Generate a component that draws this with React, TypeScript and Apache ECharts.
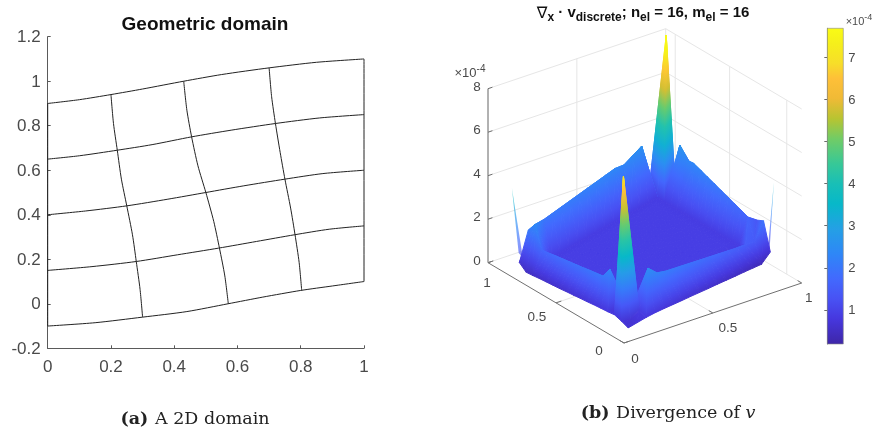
import React, { useEffect, useRef } from "react";
import * as echarts from "echarts";

// ---------- left panel : mesh curves ----------
const xTicksLeft = { min: 0, max: 1, step: 0.2 };
const yTicksLeft = { min: -0.2, max: 1.2, step: 0.2 };
const meshH1 = [[0,0.9],[0.1,0.917],[0.2,0.94],[0.3,0.965],[0.43,1.0],[0.55,1.03],[0.7,1.06],[0.85,1.085],[1,1.1]];
const meshH2 = [[0,0.65],[0.1,0.665],[0.22,0.69],[0.33,0.715],[0.455,0.75],[0.58,0.78],[0.72,0.81],[0.86,0.835],[1,0.85]];
const meshH3 = [[0,0.4],[0.12,0.417],[0.25,0.44],[0.38,0.47],[0.5,0.5],[0.62,0.53],[0.75,0.56],[0.87,0.585],[1,0.6]];
const meshH4 = [[0,0.15],[0.14,0.167],[0.28,0.19],[0.41,0.22],[0.54,0.25],[0.66,0.28],[0.78,0.31],[0.89,0.335],[1,0.35]];
const meshH5 = [[0,-0.1],[0.15,-0.085],[0.3,-0.06],[0.44,-0.035],[0.57,0],[0.68,0.03],[0.8,0.06],[0.9,0.08],[1,0.1]];
const meshV1 = [[0.2,0.94],[0.208,0.81],[0.22,0.69],[0.233,0.56],[0.25,0.44],[0.268,0.31],[0.28,0.19],[0.292,0.065],[0.3,-0.06]];
const meshV2 = [[0.43,1.0],[0.44,0.87],[0.455,0.75],[0.475,0.62],[0.5,0.5],[0.525,0.37],[0.543,0.25],[0.56,0.125],[0.571,0]];
const meshV3 = [[0.7,1.06],[0.708,0.93],[0.72,0.81],[0.735,0.68],[0.75,0.56],[0.768,0.43],[0.782,0.31],[0.795,0.185],[0.803,0.06]];
const meshV4 = [[1,0.1],[1,1.1]];
const meshV5 = [[0,-0.1],[0,0.9]];
const meshLines = [meshH1, meshH2, meshH3, meshH4, meshH5, meshV1, meshV2, meshV3, meshV4, meshV5];

// ---------- right panel : surface heights, 17 x 17 nodes over x,y = 0.1..0.9 ----------
const nodeX = [0.1,0.15,0.2,0.25,0.3,0.35,0.4,0.45,0.5,0.55,0.6,0.65,0.7,0.75,0.8,0.85,0.9];
const nodeY = nodeX;
const heights: number[][] = [
  [0.05,0.15,0.25,0.23,0.19,0.14,0.09,0.05,0,-0.05,-0.09,-0.14,-0.19,-0.23,-0.28,-0.33,0],
  [0.18,0.1,0.4,2.1,1.65,1.5,1.4,1.3,1.2,1.1,1.0,0.9,0.8,0.7,0.63,0.55,1.25],
  [0.28,6.5,0.38,0.38,0.38,0.38,0.38,0.38,0.38,0.38,0.38,0.38,0.38,0.38,0.38,1.47,1.1],
  [0.24,0.18,0.38,0.45,0.45,0.45,0.45,0.45,0.45,0.45,0.45,0.45,0.45,0.45,0.38,1.6,0.8],
  [0.21,1.87,0.38,0.45,0.45,0.45,0.45,0.45,0.45,0.45,0.45,0.45,0.45,0.45,0.38,1.72,0.92],
  [0.18,1.37,0.38,0.45,0.45,0.45,0.45,0.45,0.45,0.45,0.45,0.45,0.45,0.45,0.38,1.85,1.05],
  [0.14,1.32,0.38,0.45,0.45,0.45,0.45,0.45,0.45,0.45,0.45,0.45,0.45,0.45,0.38,1.97,1.17],
  [0.11,1.27,0.38,0.45,0.45,0.45,0.45,0.45,0.45,0.45,0.45,0.45,0.45,0.45,0.38,2.1,1.3],
  [0.07,1.21,0.38,0.45,0.45,0.45,0.45,0.45,0.45,0.45,0.45,0.45,0.45,0.45,0.38,2.22,1.42],
  [0.04,1.16,0.38,0.45,0.45,0.45,0.45,0.45,0.45,0.45,0.45,0.45,0.45,0.45,0.38,2.35,1.55],
  [0,1.11,0.38,0.45,0.45,0.45,0.45,0.45,0.45,0.45,0.45,0.45,0.45,0.45,0.38,2.47,1.67],
  [-0.03,1.06,0.38,0.45,0.45,0.45,0.45,0.45,0.45,0.45,0.45,0.45,0.45,0.45,0.38,2.43,1.63],
  [-0.06,1.01,0.38,0.45,0.45,0.45,0.45,0.45,0.45,0.45,0.45,0.45,0.45,0.45,0.38,2.93,1.6],
  [-0.09,0.95,0.38,0.45,0.45,0.45,0.45,0.45,0.45,0.45,0.45,0.45,0.45,0.45,0.38,1.44,0.4],
  [-0.13,0.9,0.38,0.38,0.38,0.38,0.38,0.38,0.38,0.38,0.38,0.38,0.38,0.38,0.38,7.62,0.5],
  [-0.16,1.9,1.99,2.05,2.11,2.17,2.23,2.29,2.35,2.41,2.47,2.4,2.6,2.8,1.2,1.3,0.6],
  [0.1,1.45,1.3,1.35,1.41,1.47,1.53,1.59,1.65,1.71,1.77,1.7,1.9,2.1,0.7,0.8,0.5],
];
// cells beside the two tall spikes that are split along the other diagonal, so the spikes stay narrow
const flippedCells = ["0,2", "15,13"];
// thin spikes at the left and right corners: apex then two base nodes, as [x, y, h]
const cornerSpikeLeft = [[0.1,0.955,3.32],[0.096,0.9,0.55],[0.108,0.885,0.35]];
const cornerSpikeRight = [[0.92,0.1,3.13],[0.9,0.115,0.3],[0.892,0.095,0.2]];

const zTicks = [0, 2, 4, 6, 8];
const xyTicks = [0, 0.5, 1];
const wallYVerticals = [0, 0.5, 1];
const wallXVerticals = [0.93, 0.53, 0.11];
const barTicks = [1, 2, 3, 4, 5, 6, 7];
const barRange = [0.19, 7.69];

// parula colour map
const parulaStops = [
  [0,62,38,168],[0.079,70,55,222],[0.143,72,82,244],[0.206,66,105,254],[0.286,46,135,247],[0.365,36,160,229],
  [0.444,7,184,201],[0.508,25,191,182],[0.571,55,200,151],[0.651,114,204,101],[0.714,184,196,49],[0.778,240,186,54],
  [0.841,254,192,56],[0.889,247,222,41],[0.952,245,239,27],[1,249,251,21],
];

function parula(t: number) {
  const u = Math.min(1, Math.max(0, t));
  for (let i = 1; i < parulaStops.length; i++) {
    const a = parulaStops[i - 1], b = parulaStops[i];
    if (u <= b[0]) {
      const f = (u - a[0]) / (b[0] - a[0]);
      return `rgb(${Math.round(a[1] + f * (b[1] - a[1]))},${Math.round(a[2] + f * (b[2] - a[2]))},${Math.round(a[3] + f * (b[3] - a[3]))})`;
    }
  }
  return "rgb(249,251,21)";
}
const colourOf = (c: number) => parula((c - barRange[0]) / (barRange[1] - barRange[0]));

// oblique projection of the 3-D box on the plane of the picture
const box = { ox: 624, oy: 343, xx: 177.7, xy: -60, yx: -136, yy: -80.3, zy: -21.75 };
const project = (x: number, y: number, z: number) => [
  box.ox + box.xx * x + box.yx * y,
  box.oy + box.xy * x + box.yy * y + box.zy * z,
];
const lean = (x: number) => 1.9 * Math.max(0, x - 0.2);
const surfaceColourValue = (x: number, y: number, h: number) => {
  const base = h <= 3 ? 0.6 + 0.7 * h : h + 0.6;
  const frontRidge = (x < 0.2 || y < 0.2) && h > 0.5 && h <= 3;
  return base + (frontRidge ? 0.45 : 0);
};

type Vert = { x: number; y: number; h: number };
const node = (a: number, b: number): Vert => ({ x: nodeX[a], y: nodeY[b], h: heights[b][a] });

function buildTriangles() {
  const out: Vert[][] = [];
  for (let a = nodeX.length - 2; a >= 0; a--) {
    for (let b = nodeY.length - 2; b >= 0; b--) {
      const p00 = node(a, b), p10 = node(a + 1, b), p11 = node(a + 1, b + 1), p01 = node(a, b + 1);
      const alongMain = Math.abs(p00.h - p11.h) >= Math.abs(p10.h - p01.h);
      const useMain = flippedCells.includes(`${a},${b}`) ? !alongMain : alongMain;
      if (useMain) {
        out.push([p00, p11, p01], [p00, p10, p11]);
      } else {
        out.push([p10, p11, p01], [p00, p10, p01]);
      }
    }
  }
  return out;
}
const triangles = buildTriangles();
const asVert = (v: number[]): Vert => ({ x: v[0], y: v[1], h: v[2] });
const spikeTriangles = [cornerSpikeLeft, cornerSpikeRight].map((s) => s.map(asVert));

type Seg = number[][];
function buildWalls() {
  const segs: Seg[] = [];
  for (const z of zTicks) {
    segs.push([[0, 1, z], [1, 1, z]], [[1, 1, z], [1, 0, z]]);
  }
  for (const x of wallYVerticals) segs.push([[x, 1, 0], [x, 1, 8]]);
  for (const y of wallXVerticals) segs.push([[1, y, 0], [1, y, 8]]);
  segs.push([[0.5, 0, 0], [0.5, 1, 0]], [[0, 0.5, 0], [1, 0.5, 0]]);
  return segs;
}
function buildAxes() {
  const segs: Seg[] = [[[0, 1, 0], [0, 1, 8]], [[0, 0, 0], [0, 1, 0]], [[0, 0, 0], [1, 0, 0]]];
  for (const z of zTicks) segs.push([[0, 1, z], [0.025, 1, z]]);
  for (const t of xyTicks) {
    segs.push([[t, 0, 0], [t, 0.03, 0]]);
    segs.push([[0, t, 0], [0.03, t, 0]]);
  }
  return segs;
}
const wallSegs = buildWalls();
const axisSegs = buildAxes();

const labelFont = "'Liberation Sans', Arial, sans-serif";
const serifFont = "'DejaVu Serif', serif";
const tickColour = "#4a4a4a";

const boxLabels = [
  ...zTicks.map((z) => ({ p: [0, 1, z], dx: -11, dy: -2.5, t: String(z) })),
  { p: [0, 0, 0], dx: 11, dy: 15, t: "0" },
  { p: [0.5, 0, 0], dx: 15, dy: 14, t: "0.5" },
  { p: [1, 0, 0], dx: 7, dy: 14, t: "1" },
  { p: [0, 0, 0], dx: -25, dy: 7, t: "0" },
  { p: [0, 0.5, 0], dx: -19, dy: 14, t: "0.5" },
  { p: [0, 1, 0], dx: -1, dy: 20, t: "1" },
];

function gradientFor(pts: number[][], cs: number[]) {
  const [p0, p1, p2] = pts;
  const det = (p1[0] - p0[0]) * (p2[1] - p0[1]) - (p2[0] - p0[0]) * (p1[1] - p0[1]);
  const lo = Math.min(...cs), hi = Math.max(...cs);
  if (hi - lo < 0.04 || Math.abs(det) < 0.01) return colourOf((lo + hi) / 2);
  const gx = ((cs[1] - cs[0]) * (p2[1] - p0[1]) - (cs[2] - cs[0]) * (p1[1] - p0[1])) / det;
  const gy = ((cs[2] - cs[0]) * (p1[0] - p0[0]) - (cs[1] - cs[0]) * (p2[0] - p0[0])) / det;
  const g2 = gx * gx + gy * gy;
  const iLo = cs.indexOf(lo);
  const start = pts[iLo];
  const n = Math.min(10, Math.max(2, Math.ceil(hi - lo) * 2 + 1));
  const colorStops = [];
  for (let i = 0; i < n; i++) {
    const f = i / (n - 1);
    colorStops.push({ offset: f, color: colourOf(lo + f * (hi - lo)) });
  }
  return {
    type: "linear", global: true,
    x: start[0], y: start[1],
    x2: start[0] + (gx * (hi - lo)) / g2, y2: start[1] + (gy * (hi - lo)) / g2,
    colorStops,
  };
}

const triangleRenderer = (list: Vert[][], opacity: number, strokeW: number) => (params: any, api: any) => {
  const tri = list[params.dataIndex];
  const pts = tri.map((v) => api.coord(project(v.x, v.y, v.h + lean(v.x))));
  const cs = tri.map((v) => surfaceColourValue(v.x, v.y, v.h));
  const fill = gradientFor(pts, cs);
  return {
    type: "polygon",
    shape: { points: pts },
    style: { fill, stroke: strokeW > 0 ? fill : "none", lineWidth: strokeW, lineJoin: "round", opacity },
    silent: true,
  };
};

const segRenderer = (list: Seg[], color: string) => (params: any, api: any) => {
  const s = list[params.dataIndex];
  const a = api.coord(project(s[0][0], s[0][1], s[0][2]));
  const b = api.coord(project(s[1][0], s[1][1], s[1][2]));
  return {
    type: "line",
    shape: { x1: a[0], y1: a[1], x2: b[0], y2: b[1] },
    style: { stroke: color, lineWidth: 1 },
    silent: true,
  };
};

const customBase = { type: "custom", xAxisIndex: 1, yAxisIndex: 1, clip: false, silent: true, animation: false };
const indexData = (arr: any[]) => arr.map((_, i) => [i, i]);

function buildOption() {
  const meshSeries = meshLines.map((d) => ({
    type: "line", xAxisIndex: 0, yAxisIndex: 0, data: d, showSymbol: false, smooth: 0.25, clip: false, silent: true,
    lineStyle: { color: "#222222", width: 1 },
  }));
  return {
    animation: false,
    backgroundColor: "#ffffff",
    grid: [
      { left: 47.7, top: 36.7, width: 316.3, height: 311.6 },
      { left: 0, top: 0, width: 879, height: 432 },
      { left: 827.3, top: 28.3, width: 16, height: 315.7 },
    ],
    xAxis: [
      {
        gridIndex: 0, type: "value", min: xTicksLeft.min, max: xTicksLeft.max, interval: xTicksLeft.step,
        axisLine: { show: true, onZero: false, lineStyle: { color: "#5a5a5a", width: 1 } },
        axisTick: { show: true, inside: true, length: 3, lineStyle: { color: "#5a5a5a" } },
        axisLabel: { color: tickColour, fontSize: 17, fontFamily: labelFont, margin: 10 },
        splitLine: { show: false },
      },
      { gridIndex: 1, type: "value", min: 0, max: 879, show: false },
      { gridIndex: 2, type: "value", min: 0, max: 1, show: false },
    ],
    yAxis: [
      {
        gridIndex: 0, type: "value", min: yTicksLeft.min, max: yTicksLeft.max, interval: yTicksLeft.step,
        axisLine: { show: true, onZero: false, lineStyle: { color: "#5a5a5a", width: 1 } },
        axisTick: { show: true, inside: true, length: 3, lineStyle: { color: "#5a5a5a" } },
        axisLabel: { color: tickColour, fontSize: 17, fontFamily: labelFont, margin: 7, formatter: (v: number) => String(Number(v.toFixed(1))) },
        splitLine: { show: false },
      },
      { gridIndex: 1, type: "value", min: 0, max: 432, inverse: true, show: false },
      {
        gridIndex: 2, type: "value", min: barRange[0], max: barRange[1], position: "right",
        axisLine: { show: true, lineStyle: { color: "#6a6a6a", width: 1 } },
        axisTick: { show: true, inside: true, length: 3, lineStyle: { color: "#6a6a6a" }, customValues: barTicks },
        axisLabel: { color: tickColour, fontSize: 13, fontFamily: labelFont, margin: 5, customValues: barTicks },
        splitLine: { show: false },
      },
    ],
    series: [
      ...meshSeries,
      { ...customBase, data: indexData(wallSegs), renderItem: segRenderer(wallSegs, "#e6e6e6") },
      { ...customBase, data: indexData(axisSegs), renderItem: segRenderer(axisSegs, "#707070") },
      { ...customBase, data: indexData(spikeTriangles), renderItem: triangleRenderer(spikeTriangles, 0.65, 0) },
      { ...customBase, data: indexData(triangles), renderItem: triangleRenderer(triangles, 1, 1) },
      {
        ...customBase, data: indexData(boxLabels),
        renderItem: (params: any, api: any) => {
          const l = boxLabels[params.dataIndex];
          const c = api.coord(project(l.p[0], l.p[1], l.p[2]));
          return {
            type: "text", x: c[0] + l.dx, y: c[1] + l.dy,
            style: { text: l.t, fontSize: 13.5, fontFamily: labelFont, fill: tickColour, align: "center", verticalAlign: "middle" },
          };
        },
      },
      {
        type: "custom", xAxisIndex: 2, yAxisIndex: 2, clip: false, silent: true,
        data: [[0, barRange[0]]],
        renderItem: (_p: any, api: any) => {
          const a = api.coord([0, barRange[1]]);
          const b = api.coord([1, barRange[0]]);
          const colorStops = parulaStops.map((s) => ({ offset: 1 - s[0], color: `rgb(${s[1]},${s[2]},${s[3]})` })).reverse();
          return {
            type: "rect",
            shape: { x: a[0], y: a[1], width: b[0] - a[0], height: b[1] - a[1] },
            style: { fill: { type: "linear", x: 0, y: 0, x2: 0, y2: 1, colorStops }, stroke: "#8a8a8a", lineWidth: 0.6 },
          };
        },
      },
    ],
    graphic: [
      {
        type: "text", x: 205, y: 23,
        style: { text: "Geometric domain", font: `bold 19px ${labelFont}`, fill: "#111111", align: "center", verticalAlign: "middle" },
      },
      {
        type: "text", x: 643, y: 15,
        style: {
          text: "{g|∇}{s|x}{m| · v}{s|discrete}{m|; n}{s|el}{m| = 16, m}{s|el}{m| = 16}",
          align: "center", verticalAlign: "middle",
          rich: {
            g: { font: `16px 'DejaVu Sans', sans-serif`, fill: "#111111", lineHeight: 22, verticalAlign: "top" },
            m: { font: `bold 15px ${labelFont}`, fill: "#111111", lineHeight: 22, verticalAlign: "top" },
            s: { font: `bold 12px ${labelFont}`, fill: "#111111", lineHeight: 22, padding: [7, 0, 0, 0], verticalAlign: "top" },
          },
        },
      },
      {
        type: "text", x: 470, y: 71,
        style: {
          text: "{m|×10}{s|-4}", align: "center", verticalAlign: "middle",
          rich: {
            m: { font: `13px ${labelFont}`, fill: tickColour, lineHeight: 16, padding: [3, 0, 0, 0], verticalAlign: "top" },
            s: { font: `10px ${labelFont}`, fill: tickColour, lineHeight: 16, verticalAlign: "top" },
          },
        },
      },
      {
        type: "text", x: 859, y: 19,
        style: {
          text: "{m|×10}{s|-4}", align: "center", verticalAlign: "middle",
          rich: {
            m: { font: `11px ${labelFont}`, fill: tickColour, lineHeight: 14, padding: [3, 0, 0, 0], verticalAlign: "top" },
            s: { font: `9px ${labelFont}`, fill: tickColour, lineHeight: 14, verticalAlign: "top" },
          },
        },
      },
      {
        type: "text", x: 195, y: 418,
        style: {
          text: "{b|(a)}  {r|A 2D domain}", align: "center", verticalAlign: "middle",
          rich: {
            b: { font: `bold 17.5px ${serifFont}`, fill: "#222222" },
            r: { font: `17.5px ${serifFont}`, fill: "#222222" },
          },
        },
      },
      {
        type: "text", x: 668, y: 412,
        style: {
          text: "{b|(b)}  {r|Divergence of }{i|v}", align: "center", verticalAlign: "middle",
          rich: {
            b: { font: `bold 17.5px ${serifFont}`, fill: "#222222" },
            r: { font: `17.5px ${serifFont}`, fill: "#222222" },
            i: { font: `italic 17.5px ${serifFont}`, fill: "#222222" },
          },
        },
      },
    ],
  };
}

export default function App() {
  const ref = useRef<HTMLDivElement>(null);
  useEffect(() => {
    document.body.style.margin = "0";
    const chart = echarts.init(ref.current!, undefined, { renderer: "svg" });
    chart.setOption(buildOption() as any);
    return () => chart.dispose();
  }, []);
  return <div ref={ref} style={{ width: 879, height: 432, filter: "blur(0.35px)" }} />;
}
